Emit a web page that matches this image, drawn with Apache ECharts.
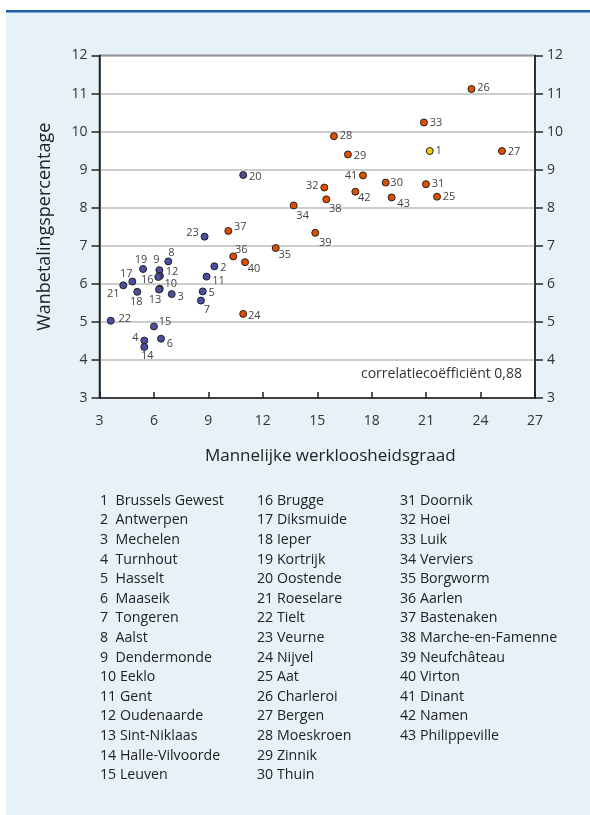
<!DOCTYPE html>
<html>
<head>
<meta charset="utf-8">
<script src="https://cdn.jsdelivr.net/npm/echarts@6/dist/echarts.min.js"></script>
<style>
html,body{margin:0;padding:0;background:#fff;}
#chart{width:590px;height:815px;}
</style>
</head>
<body>
<div id="chart"></div>
<script>
// arrondissement nummers en namen
var ids = [1,2,3,4,5,6,7,8,9,10,11,12,13,14,15,16,17,18,19,20,21,22,23,24,25,26,27,28,29,30,31,32,33,34,35,36,37,38,39,40,41,42,43];
var names = ['Brussels Gewest','Antwerpen','Mechelen','Turnhout','Hasselt','Maaseik','Tongeren','Aalst','Dendermonde','Eeklo',
    'Gent','Oudenaarde','Sint-Niklaas','Halle-Vilvoorde','Leuven','Brugge','Diksmuide','Ieper','Kortrijk','Oostende',
    'Roeselare','Tielt','Veurne','Nijvel','Aat','Charleroi','Bergen','Moeskroen','Zinnik','Thuin',
    'Doornik','Hoei','Luik','Verviers','Borgworm','Aarlen','Bastenaken','Marche-en-Famenne','Neufchâteau','Virton',
    'Dinant','Namen','Philippeville'];
// mannelijke werkloosheidsgraad (x) en wanbetalingspercentage (y)
var werkloosheid = [21.2,9.33,6.98,5.47,8.69,6.39,8.59,6.79,6.30,6.32,
    8.90,6.33,6.28,5.47,6.00,6.24,4.81,5.08,5.40,10.92,
    4.31,3.62,8.79,10.92,21.60,23.50,25.18,15.92,16.69,18.77,
    20.99,15.39,20.88,13.70,12.71,10.37,10.10,15.50,14.89,11.02,
    17.52,17.10,19.10];
var wanbetaling = [9.49,6.46,5.73,4.51,5.80,4.56,5.56,6.59,6.36,5.87,
    6.19,6.21,5.85,4.34,4.88,6.18,6.06,5.79,6.39,8.86,
    5.96,5.03,7.24,5.21,8.29,11.12,9.49,9.88,9.40,8.66,
    8.62,8.53,10.24,8.06,6.94,6.72,7.39,8.22,7.34,6.57,
    8.85,8.42,8.27];
// gewest: 0 = Brussel, 1 = Vlaanderen, 2 = Wallonie
var gewest = [0,1,1,1,1,1,1,1,1,1,1,1,1,1,1,1,1,1,1,1,1,1,1,2,2,2,2,2,2,2,2,2,2,2,2,2,2,2,2,2,2,2,2];
var xTicks = [3,6,9,12,15,18,21,24,27];
var yTicks = [3,4,5,6,7,8,9,10,11,12];

// plaats van de labels t.o.v. het punt (px)
var labelOffset = {
    1:[9,0],2:[9,2],3:[9,3],4:[-9,-3],5:[9,1],6:[9,5],7:[6,9],8:[3,-9],9:[-3,-10],10:[11,-5],
    11:[12,4],12:[12,-4],13:[-4,10],14:[3,9],15:[11,-5],16:[-11,3],17:[-6,-8],18:[-1,10],19:[-2,-9],20:[12,2],
    21:[-10,9],22:[14,-2],23:[-12,-4],24:[11,2],25:[12,0],26:[12,-1],27:[12,1],28:[12,0],29:[12,1],30:[11,0],
    31:[12,0],32:[-12,-2],33:[12,0],34:[9,10],35:[9,7],36:[8,-7],37:[12,-4],38:[9,10],39:[10,10],40:[9,7],
    41:[-12,0],42:[9,6],43:[12,6]
};
var kleuren = ['#f2cf00','#4b4f9e','#e04e00'];
var font = '"Open Sans", "Noto Sans", sans-serif';

var points = [];
for (var i = 0; i < ids.length; i++) {
    points.push({
        value:[werkloosheid[i], wanbetaling[i]],
        itemStyle:{color:kleuren[gewest[i]]},
        label:{offset:labelOffset[ids[i]]},
        id_nr: ids[i]
    });
}

// legenda kolommen
function kolom(van, tot) {
    var lines = [];
    for (var i = van; i <= tot; i++) {
        lines.push(ids[i-1] + (ids[i-1] < 10 ? '  ' : ' ') + names[i-1]);
    }
    return lines.join('\n');
}

var myChart = echarts.init(document.getElementById('chart'));
var option = {
    animation:false,
    textStyle:{fontFamily:font},
    graphic:[
        {type:'rect', z:-10, shape:{x:6, y:10, width:584, height:805}, style:{fill:'#e6f1f8'}},
        {type:'rect', z:-9, shape:{x:6, y:10, width:584, height:2.5}, style:{fill:'#1b5ea6'}},
        {type:'text', x:522, y:374, style:{text:'correlatiecoëfficiënt 0,88', fill:'#333', font:'14px ' + font, textAlign:'right', textVerticalAlign:'middle'}},
        {type:'text', x:100, y:491, style:{text:kolom(1,15), fill:'#222', font:'14.2px ' + font, lineHeight:19.6}},
        {type:'text', x:257, y:491, style:{text:kolom(16,30), fill:'#222', font:'14.2px ' + font, lineHeight:19.6}},
        {type:'text', x:400, y:491, style:{text:kolom(31,43), fill:'#222', font:'14.2px ' + font, lineHeight:19.6}}
    ],
    grid:{left:99.5, top:55.5, right:55, bottom:417, show:true, backgroundColor:'#fff', borderColor:'#222', borderWidth:1.5},
    xAxis:{
        type:'value', min:3, max:27, interval:3,
        name:'Mannelijke werkloosheidsgraad', nameLocation:'middle', nameGap:50,
        nameTextStyle:{fontSize:17, color:'#222', padding:[0,0,0,26]},
        axisLine:{lineStyle:{color:'#222', width:1.5}},
        axisTick:{inside:true, length:6, lineStyle:{color:'#222', width:1.5}},
        axisLabel:{fontSize:14, color:'#333', margin:16,
            formatter:function(v){ return xTicks.indexOf(v) >= 0 ? String(v) : ''; }},
        splitLine:{show:false}
    },
    yAxis:[
        {
            type:'value', min:3, max:12, interval:1, position:'left',
            name:'Wanbetalingspercentage', nameLocation:'middle', nameGap:46,
            nameTextStyle:{fontSize:18, color:'#222'},
            axisLine:{show:true, lineStyle:{color:'#222', width:1.5}},
            axisTick:{show:true, length:8, lineStyle:{color:'#222', width:1.5}},
            axisLabel:{fontSize:14, color:'#333', margin:12,
                formatter:function(v){ return yTicks.indexOf(v) >= 0 ? String(v) : ''; }},
            splitLine:{show:true, lineStyle:{color:'#bcbcbc', width:1.5}}
        },
        {
            type:'value', min:3, max:12, interval:1, position:'right',
            axisLine:{show:true, lineStyle:{color:'#222', width:1.5}},
            axisTick:{show:true, length:8, lineStyle:{color:'#222', width:1.5}},
            axisLabel:{fontSize:14, color:'#333', margin:12},
            splitLine:{show:false}
        }
    ],
    series:[{
        type:'scatter',
        symbolSize:7,
        itemStyle:{borderColor:'#222', borderWidth:1, opacity:1},
        label:{
            show:true, position:'inside', color:'#444', fontSize:11,
            formatter:function(p){ return String(p.data.id_nr); }
        },
        data:points
    }]
};
myChart.setOption(option);
</script>
</body>
</html>
